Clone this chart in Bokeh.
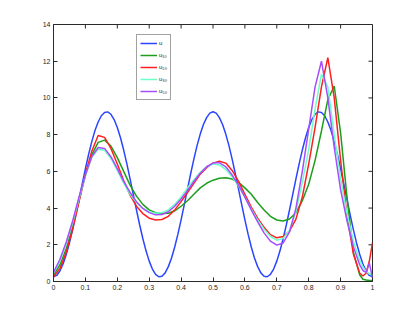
import math
from bokeh.plotting import figure
from bokeh.models import FixedTicker, Range1d, Legend, LegendItem
from bokeh.embed import file_html
from bokeh.resources import INLINE

# exact solution u, read on a finer grid
x_u = [i / 100 for i in range(101)]
u_half = [0.25, 0.33, 0.57, 0.95, 1.47, 2.10, 2.83, 3.63, 4.47, 5.31,
          6.14, 6.92, 7.62, 8.22, 8.69, 9.03, 9.21, 9.24, 9.11, 8.82,
          8.39, 7.83, 7.16, 6.41, 5.59, 4.75, 3.91, 3.09, 2.34, 1.67,
          1.11, 0.68, 0.39, 0.26, 0.29, 0.47, 0.81, 1.28, 1.88, 2.58,
          3.36, 4.19, 5.03, 5.87, 6.67, 7.40, 8.03, 8.55, 8.93, 9.17,
          9.25]
u = u_half + u_half[-2::-1]

x = [0.00, 0.02, 0.04, 0.06, 0.08, 0.10, 0.12, 0.14, 0.16, 0.18,
     0.20, 0.22, 0.24, 0.26, 0.28, 0.30, 0.32, 0.34, 0.36, 0.38,
     0.40, 0.42, 0.44, 0.46, 0.48, 0.50, 0.52, 0.54, 0.56, 0.58,
     0.60, 0.62, 0.64, 0.66, 0.68, 0.70, 0.72, 0.74, 0.76, 0.78,
     0.80, 0.82, 0.84, 0.86, 0.88, 0.90, 0.92, 0.94, 0.96, 0.97,
     0.98, 0.99, 1.00]

u10 = [0.35, 0.90, 1.80, 3.00, 4.40, 5.80, 6.90, 7.58, 7.70, 7.38,
       6.75, 6.00, 5.25, 4.65, 4.20, 3.90, 3.75, 3.70, 3.72, 3.85,
       4.10, 4.40, 4.75, 5.10, 5.35, 5.52, 5.62, 5.65, 5.58, 5.40,
       5.10, 4.75, 4.30, 3.90, 3.55, 3.35, 3.30, 3.40, 3.75, 4.40,
       5.30, 6.60, 8.20, 9.90, 10.65, 8.10, 4.60, 1.60, 0.35, 0.12,
       0.08, 0.06, 0.05]

u20 = [0.25, 0.70, 1.60, 2.85, 4.35, 5.85, 7.10, 7.95, 7.85, 7.25,
       6.40, 5.50, 4.70, 4.10, 3.70, 3.45, 3.35, 3.38, 3.55, 3.90,
       4.35, 4.85, 5.35, 5.85, 6.20, 6.45, 6.55, 6.45, 6.05, 5.45,
       4.75, 4.05, 3.45, 2.95, 2.55, 2.38, 2.45, 2.75, 3.40, 4.60,
       6.40, 8.40, 10.60, 12.20, 10.00, 6.60, 3.60, 1.50, 0.45, 0.30,
       0.45, 1.10, 2.10]

u30 = [0.45, 1.10, 2.05, 3.20, 4.50, 5.75, 6.75, 7.20, 7.15, 6.70,
       6.05, 5.35, 4.75, 4.30, 3.98, 3.80, 3.72, 3.75, 3.90, 4.20,
       4.60, 5.10, 5.55, 5.95, 6.25, 6.40, 6.35, 6.10, 5.70, 5.20,
       4.60, 3.95, 3.35, 2.85, 2.45, 2.25, 2.35, 2.80, 3.80, 5.40,
       7.20, 9.40, 11.30, 10.60, 8.00, 5.60, 3.70, 2.20, 1.15, 0.80,
       0.55, 0.42, 0.35]

u50 = [0.50, 1.20, 2.15, 3.30, 4.60, 5.80, 6.80, 7.30, 7.25, 6.80,
       6.15, 5.45, 4.85, 4.35, 3.98, 3.75, 3.63, 3.65, 3.80, 4.10,
       4.50, 4.95, 5.45, 5.90, 6.25, 6.45, 6.48, 6.25, 5.80, 5.25,
       4.60, 3.90, 3.25, 2.65, 2.20, 1.98, 2.10, 2.70, 4.00, 6.00,
       8.30, 10.60, 12.00, 10.00, 7.30, 5.00, 3.30, 1.90, 0.90, 0.60,
       0.50, 1.00, 0.20]

series_x = [x_u, x, x, x, x]
series = [u, u10, u20, u30, u50]
series_labels = ["u", "u\u2081\u2080", "u\u2082\u2080", "u\u2083\u2080", "u\u2085\u2080"]
series_colors = ["#2b45ff", "#1c9e1c", "#ff1f1f", "#6dffc8", "#a64dff"]

x_ticks = [0, 0.1, 0.2, 0.3, 0.4, 0.5, 0.6, 0.7, 0.8, 0.9, 1]
x_tick_labels = ["0", "0.1", "0.2", "0.3", "0.4", "0.5", "0.6", "0.7", "0.8", "0.9", "1"]
y_ticks = [0, 2, 4, 6, 8, 10, 12, 14]

FONT = "Liberation Sans"
AXC = "#2a2a2a"

p = figure(width=405, height=310, output_backend="svg", toolbar_location=None,
           x_range=Range1d(0, 1), y_range=Range1d(0, 14),
           min_border_left=53, min_border_right=33, min_border_top=24, min_border_bottom=29)
p.grid.visible = False
p.outline_line_color = AXC
p.background_fill_color = "white"
p.border_fill_color = "white"

for ax in (p.xaxis[0], p.yaxis[0]):
    ax.axis_line_color = AXC
    ax.major_tick_line_color = AXC
    ax.major_tick_in = 4
    ax.major_tick_out = 0
    ax.minor_tick_line_color = None
    ax.major_label_text_font = FONT
    ax.major_label_text_font_size = "7px"
    ax.major_label_text_color = "#262626"
    ax.major_label_standoff = 3

p.xaxis.ticker = FixedTicker(ticks=x_ticks)
p.xaxis.major_label_overrides = dict(zip(x_ticks, x_tick_labels))
p.yaxis.ticker = FixedTicker(ticks=y_ticks)

# box ticks on the top and right edges (MATLAB style)
p.ray(x=x_ticks, y=[14] * len(x_ticks), length=4, length_units="screen",
      angle=-math.pi / 2, line_color=AXC, line_width=1)
p.ray(x=[1] * len(y_ticks), y=y_ticks, length=4, length_units="screen",
      angle=math.pi, line_color=AXC, line_width=1)

items = []
for xs, ys, lab, col in zip(series_x, series, series_labels, series_colors):
    r = p.line(xs, ys, line_color=col, line_width=1.5)
    items.append(LegendItem(label=lab, renderers=[r]))

legend = Legend(items=items, location=(83, 181))
legend.border_line_color = "#444444"
legend.border_line_width = 1
legend.background_fill_color = "white"
legend.label_text_font = FONT
legend.label_text_font_size = "6px"
legend.label_text_color = "#262626"
legend.label_height = 10
legend.label_width = 8
legend.glyph_height = 10
legend.glyph_width = 17
legend.label_standoff = 2
legend.spacing = 2
legend.padding = 3
legend.margin = 0
p.add_layout(legend)

open("out.html", "w").write(file_html(p, INLINE))
